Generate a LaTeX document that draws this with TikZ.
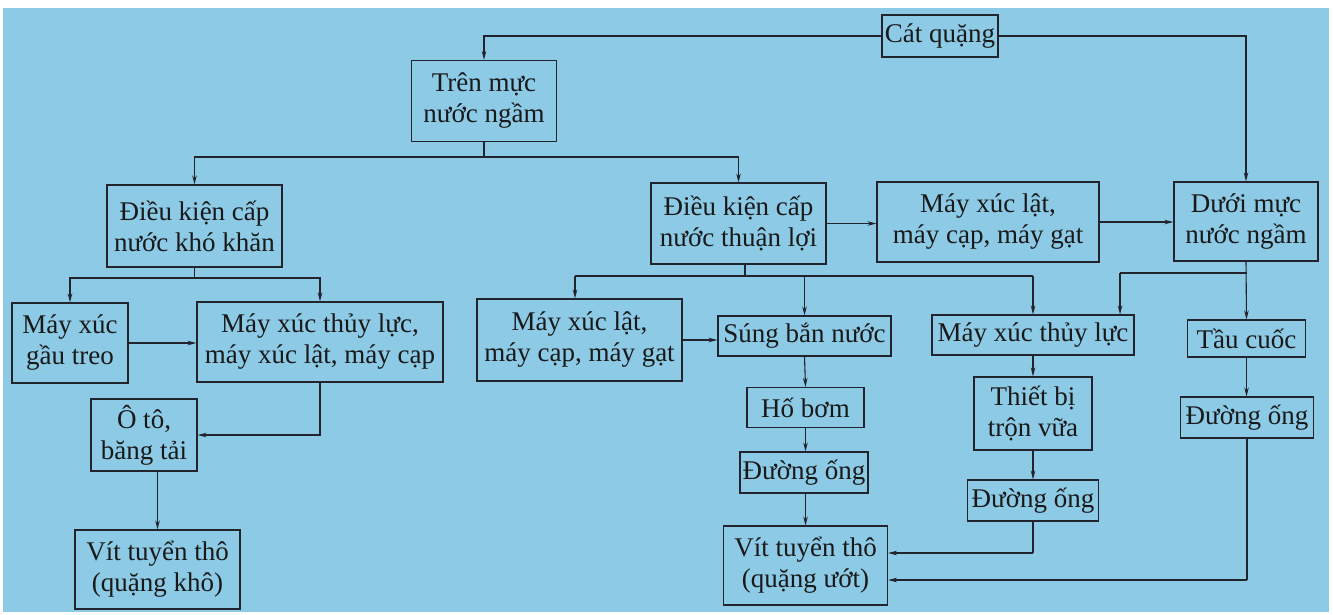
\documentclass[tikz,border=0pt]{standalone}
\usepackage{fontspec}
\setmainfont{Liberation Serif}
\usetikzlibrary{arrows.meta}
\definecolor{bgblue}{RGB}{140,202,230}
\definecolor{ink}{RGB}{35,35,45}
\tikzset{
  bx/.style 2 args={draw=ink, line width=1.1pt, minimum width=#1pt, minimum height=#2pt,
    inner sep=0pt, align=center, font=\fontsize{27}{31}\selectfont, text=black!90},
  ln/.style={draw=ink, line width=1.1pt},
  arr/.style={ln, -{Stealth[length=9pt,width=4.5pt]}}
}
\begin{document}
\begin{tikzpicture}[x=1pt,y=-1pt]
\useasboundingbox (0,0) rectangle (1333,614);
\fill[white] (0,0) rectangle (1333,614);
\fill[bgblue] (3,8) rectangle (1329,612);

% nodes
\node[bx={116}{42}] (cat) at (940,36) {Cát quặng};
\node[bx={145}{81}] (tren) at (484,101) {Trên mực\\nước ngầm};
\node[bx={175}{82}] (dkkk) at (194.5,226) {Điều kiện cấp\\nước khó khăn};
\node[bx={116}{80}] (gau) at (70,343) {Máy xúc\\gầu treo};
\node[bx={246}{80}] (tl1) at (320,342) {Máy xúc thủy lực,\\máy xúc lật, máy cạp};
\node[bx={106}{72}] (oto) at (144,435) {Ô tô,\\băng tải};
\node[bx={165}{79}] (vkho) at (157.5,569.5) {Vít tuyển thô\\(quặng khô)};
\node[bx={175}{81}] (dktl) at (738.5,223.5) {Điều kiện cấp\\nước thuận lợi};
\node[bx={222}{80}] (mxl1) at (988,222) {Máy xúc lật,\\máy cạp, máy gạt};
\node[bx={144}{79}] (duoi) at (1246,221.5) {Dưới mực\\nước ngầm};
\node[bx={205}{82}] (mxl2) at (579.5,340) {Máy xúc lật,\\máy cạp, máy gạt};
\node[bx={173}{40}] (sung) at (804.5,336) {Súng bắn nước};
\node[bx={117}{40}] (hobom) at (805.5,407.5) {Hố bơm};
\node[bx={128}{41}] (do1) at (804,472.5) {Đường ống};
\node[bx={164}{79}] (vuot) at (805.5,565.5) {Vít tuyển thô\\(quặng ướt)};
\node[bx={202}{40}] (tl2) at (1033,335) {Máy xúc thủy lực};
\node[bx={118}{73}] (tbi) at (1033,413.5) {Thiết bị\\trộn vữa};
\node[bx={131}{41}] (do2) at (1033,500.5) {Đường ống};
\node[bx={118}{37}] (tau) at (1246.5,338.5) {Tầu cuốc};
\node[bx={133}{41}] (do3) at (1247,417.5) {Đường ống};

% helper coordinates
\coordinate (b1) at (484,157);
\coordinate (b2) at (194.5,278);
\coordinate (b3) at (745,276);
\coordinate (b3l) at (575,276);
\coordinate (b4) at (1246.5,273);
\coordinate (b4l) at (1120,273);
\coordinate (w1) at (1033,553);
\coordinate (w2) at (1247,580);

% connectors
\draw[arr] (cat.west) -| (tren.north);
\draw[arr] (cat.east) -| (duoi.north);
\draw[ln] (tren.south) -- (b1);
\draw[arr] (b1) -| (dkkk.north);
\draw[arr] (b1) -| (dktl.north);
\draw[ln] (dkkk.south) -- (b2);
\draw[arr] (b2) -| (gau.north);
\draw[arr] (b2) -| (tl1.north);
\draw[arr] (gau.east) -- (gau.east -| tl1.west);
\draw[arr] (tl1.south) |- (oto.east);
\draw[arr] (oto.south -| vkho.north) -- (vkho.north);

\draw[ln] (b3 |- dktl.south) -- (b3);
\draw[ln] (b3l) -- (tl2.north |- b3);
\draw[arr] (b3l) -- (b3l |- mxl2.north);
\draw[arr] (sung.north |- b3) -- (sung.north);
\draw[arr] (tl2.north |- b3) -- (tl2.north);
\draw[arr] (dktl.east) -- (dktl.east -| mxl1.west);
\draw[arr] (mxl1.east) -- (mxl1.east -| duoi.west);

\draw[arr] (duoi.south) -- (tau.north);
\draw[ln] (b4) -- (b4l);
\draw[arr] (b4l) -- (b4l |- tl2.north);

\draw[arr] (mxl2.east) -- (mxl2.east -| sung.west);
\draw[arr] (sung.south) -- (hobom.north);
\draw[arr] (hobom.south) -- (hobom.south |- do1.north);
\draw[arr] (hobom.south |- do1.south) -- (hobom.south |- vuot.north);

\draw[arr] (tl2.south) -- (tbi.north);
\draw[arr] (tbi.south) -- (do2.north);
\draw[ln] (do2.south) -- (w1);
\draw[arr] (w1) -- (w1 -| vuot.east);

\draw[arr] (tau.south) -- (tau.south |- do3.north);
\draw[ln] (do3.south) -- (w2);
\draw[arr] (w2) -- (w2 -| vuot.east);
\end{tikzpicture}
\end{document}
